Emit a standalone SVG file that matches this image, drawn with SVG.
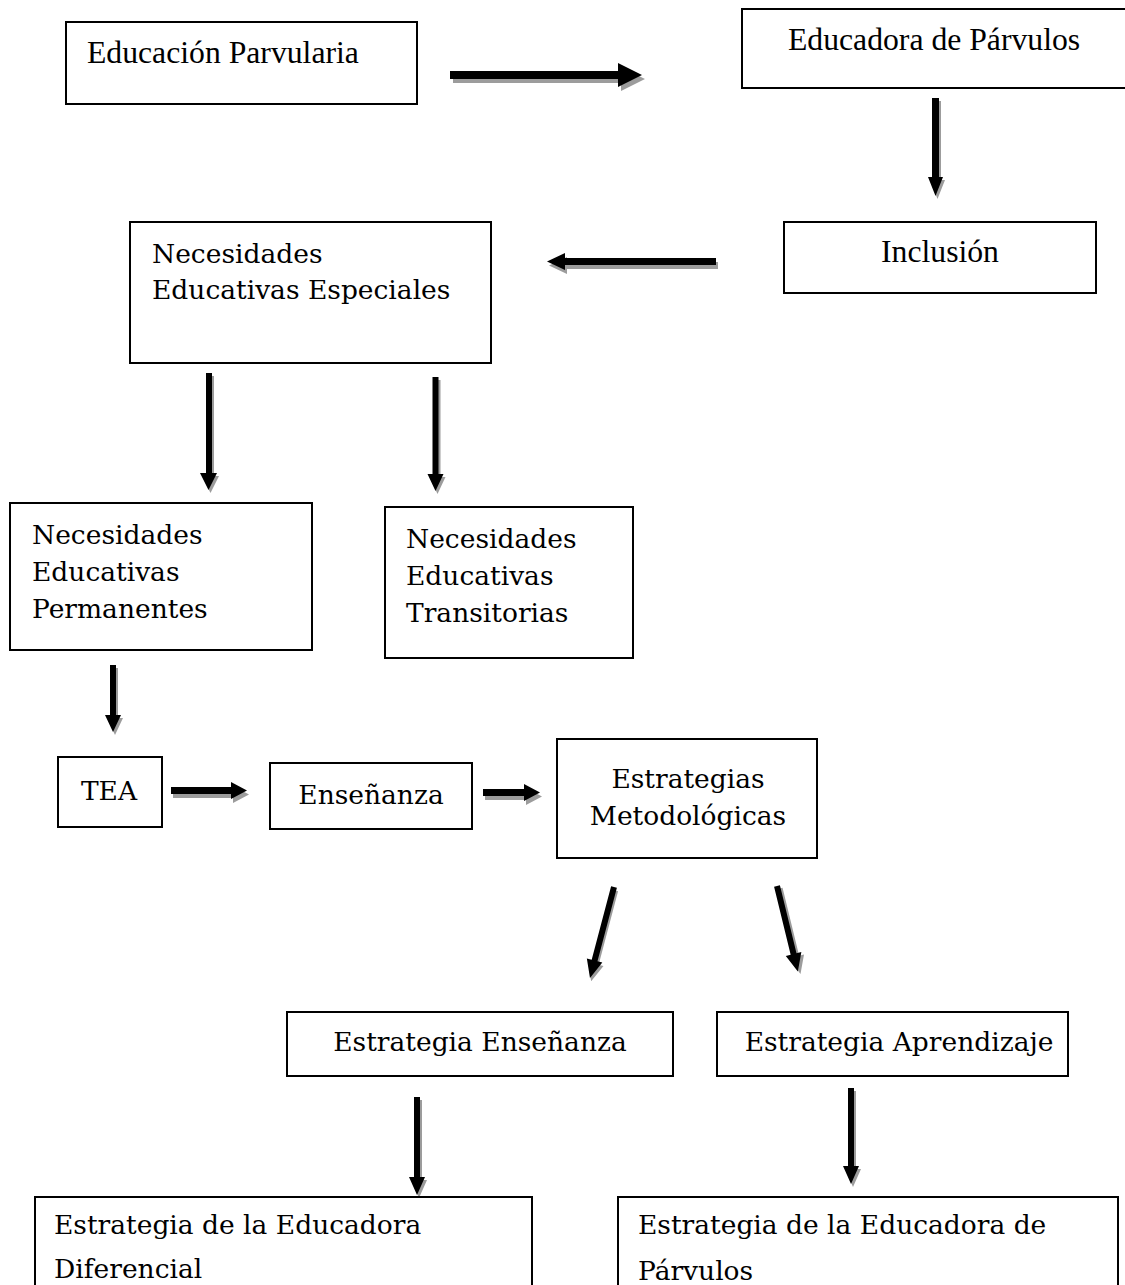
<svg xmlns="http://www.w3.org/2000/svg" width="1125" height="1285" viewBox="0 0 1125 1285">
<style>
.box{fill:#fff;stroke:#000;stroke-width:2}
.t{font-family:"Liberation Serif","Times New Roman",serif;font-size:31.7px;fill:#000}
.c{font-family:"DejaVu Serif","Liberation Serif",serif;font-size:26.5px;fill:#000}
.m{text-anchor:middle}
.ar{fill:#000}
.sh{fill:#9c9c9c}
</style>
<rect width="1125" height="1285" fill="#fff"/>
<g id="connectors">
  <!-- Educación Parvularia -> Educadora de Párvulos -->
  <g transform="translate(3,4)" class="sh"><path d="M450,71 H618 V63 L642,75 L618,87 V79 H450 Z"/></g>
  <path class="ar" d="M450,71 H618 V63 L642,75 L618,87 V79 H450 Z"/>
  <!-- Educadora -> Inclusión -->
  <g transform="translate(2,3)" class="sh"><path d="M932,98 H939 V177 H943 L935.5,196 L928,177 H932 Z"/></g>
  <path class="ar" d="M932,98 H939 V177 H943 L935.5,196 L928,177 H932 Z"/>
  <!-- Inclusión -> NEE -->
  <g transform="translate(2,4)" class="sh"><path d="M716,258 H565 V253 L547,261.5 L565,270 V265 H716 Z"/></g>
  <path class="ar" d="M716,258 H565 V253 L547,261.5 L565,270 V265 H716 Z"/>
  <!-- NEE -> NEP -->
  <g transform="translate(2,3)" class="sh"><path d="M206,373 H212 V473 H217 L208.5,490 L200,473 H206 Z"/></g>
  <path class="ar" d="M206,373 H212 V473 H217 L208.5,490 L200,473 H206 Z"/>
  <!-- NEE -> NET -->
  <g transform="translate(2,3)" class="sh"><path d="M432.5,377 H438.5 V474 H443.5 L435.5,491 L427.5,474 H432.5 Z"/></g>
  <path class="ar" d="M432.5,377 H438.5 V474 H443.5 L435.5,491 L427.5,474 H432.5 Z"/>
  <!-- NEP -> TEA -->
  <g transform="translate(2,3)" class="sh"><path d="M110,665 H116 V715 H121 L113,732 L105,715 H110 Z"/></g>
  <path class="ar" d="M110,665 H116 V715 H121 L113,732 L105,715 H110 Z"/>
  <!-- TEA -> Enseñanza -->
  <g transform="translate(2,4)" class="sh"><path d="M171,787 H231 V782 L247,790.5 L231,799 V794 H171 Z"/></g>
  <path class="ar" d="M171,787 H231 V782 L247,790.5 L231,799 V794 H171 Z"/>
  <!-- Enseñanza -> Estrategias -->
  <g transform="translate(2,4)" class="sh"><path d="M483,789 H524 V784 L540,792.5 L524,801 V796 H483 Z"/></g>
  <path class="ar" d="M483,789 H524 V784 L540,792.5 L524,801 V796 H483 Z"/>
  <!-- Estrategias -> Estrategia Enseñanza -->
  <g transform="translate(614,887) rotate(14.8)">
    <path class="sh" transform="translate(2,3)" d="M-3,0 V76 H-8 L0,94 L8,76 H3 V0 Z"/>
    <path class="ar" d="M-3,0 V76 H-8 L0,94 L8,76 H3 V0 Z"/>
  </g>
  <!-- Estrategias -> Estrategia Aprendizaje -->
  <g transform="translate(777,886) rotate(-13.7)">
    <path class="sh" transform="translate(2,3)" d="M-3,0 V70 H-8 L0,88 L8,70 H3 V0 Z"/>
    <path class="ar" d="M-3,0 V70 H-8 L0,88 L8,70 H3 V0 Z"/>
  </g>
  <!-- Estrategia Enseñanza -> Educadora Diferencial -->
  <g transform="translate(2,3)" class="sh"><path d="M414,1097 H420 V1177 H425 L417,1195 L409,1177 H414 Z"/></g>
  <path class="ar" d="M414,1097 H420 V1177 H425 L417,1195 L409,1177 H414 Z"/>
  <!-- Estrategia Aprendizaje -> Educadora de Párvulos -->
  <g transform="translate(2,3)" class="sh"><path d="M848,1088 H854 V1166 H859 L851,1184 L843,1166 H848 Z"/></g>
  <path class="ar" d="M848,1088 H854 V1166 H859 L851,1184 L843,1166 H848 Z"/>
</g>

<g id="n-educacion-parvularia">
  <rect class="box" x="66" y="22" width="351" height="82"/>
  <text class="t" x="87" y="63">Educación Parvularia</text>
</g>
<g id="n-educadora-parvulos">
  <rect class="box" x="742" y="9" width="390" height="79"/>
  <text class="t" x="788" y="50">Educadora de Párvulos</text>
</g>
<g id="n-inclusion">
  <rect class="box" x="784" y="222" width="312" height="71"/>
  <text class="t m" x="940" y="262">Inclusión</text>
</g>
<g id="n-nee">
  <rect class="box" x="130" y="222" width="361" height="141"/>
  <text class="c" x="152" y="263">Necesidades</text>
  <text class="c" x="152" y="299">Educativas Especiales</text>
</g>
<g id="n-nep">
  <rect class="box" x="10" y="503" width="302" height="147"/>
  <text class="c" x="32" y="544">Necesidades</text>
  <text class="c" x="32" y="581">Educativas</text>
  <text class="c" x="32" y="618">Permanentes</text>
</g>
<g id="n-net">
  <rect class="box" x="385" y="507" width="248" height="151"/>
  <text class="c" x="406" y="548">Necesidades</text>
  <text class="c" x="406" y="585">Educativas</text>
  <text class="c" x="406" y="622">Transitorias</text>
</g>
<g id="n-tea">
  <rect class="box" x="58" y="757" width="104" height="70"/>
  <text class="c m" x="109" y="800">TEA</text>
</g>
<g id="n-ensenanza">
  <rect class="box" x="270" y="763" width="202" height="66"/>
  <text class="c m" x="371" y="804">Enseñanza</text>
</g>
<g id="n-estrategias-metodologicas">
  <rect class="box" x="557" y="739" width="260" height="119"/>
  <text class="c m" x="688" y="788">Estrategias</text>
  <text class="c m" x="688" y="825">Metodológicas</text>
</g>
<g id="n-estrategia-ensenanza">
  <rect class="box" x="287" y="1012" width="386" height="64"/>
  <text class="c m" x="480" y="1051">Estrategia Enseñanza</text>
</g>
<g id="n-estrategia-aprendizaje">
  <rect class="box" x="717" y="1012" width="351" height="64"/>
  <text class="c m" x="899" y="1051">Estrategia Aprendizaje</text>
</g>
<g id="n-educadora-diferencial">
  <rect class="box" x="35" y="1197" width="497" height="100"/>
  <text class="c" x="54" y="1234">Estrategia de la Educadora</text>
  <text class="c" x="54" y="1278">Diferencial</text>
</g>
<g id="n-educadora-de-parvulos">
  <rect class="box" x="618" y="1197" width="500" height="100"/>
  <text class="c" x="638" y="1234">Estrategia de la Educadora de</text>
  <text class="c" x="638" y="1280">Párvulos</text>
</g>
</svg>
